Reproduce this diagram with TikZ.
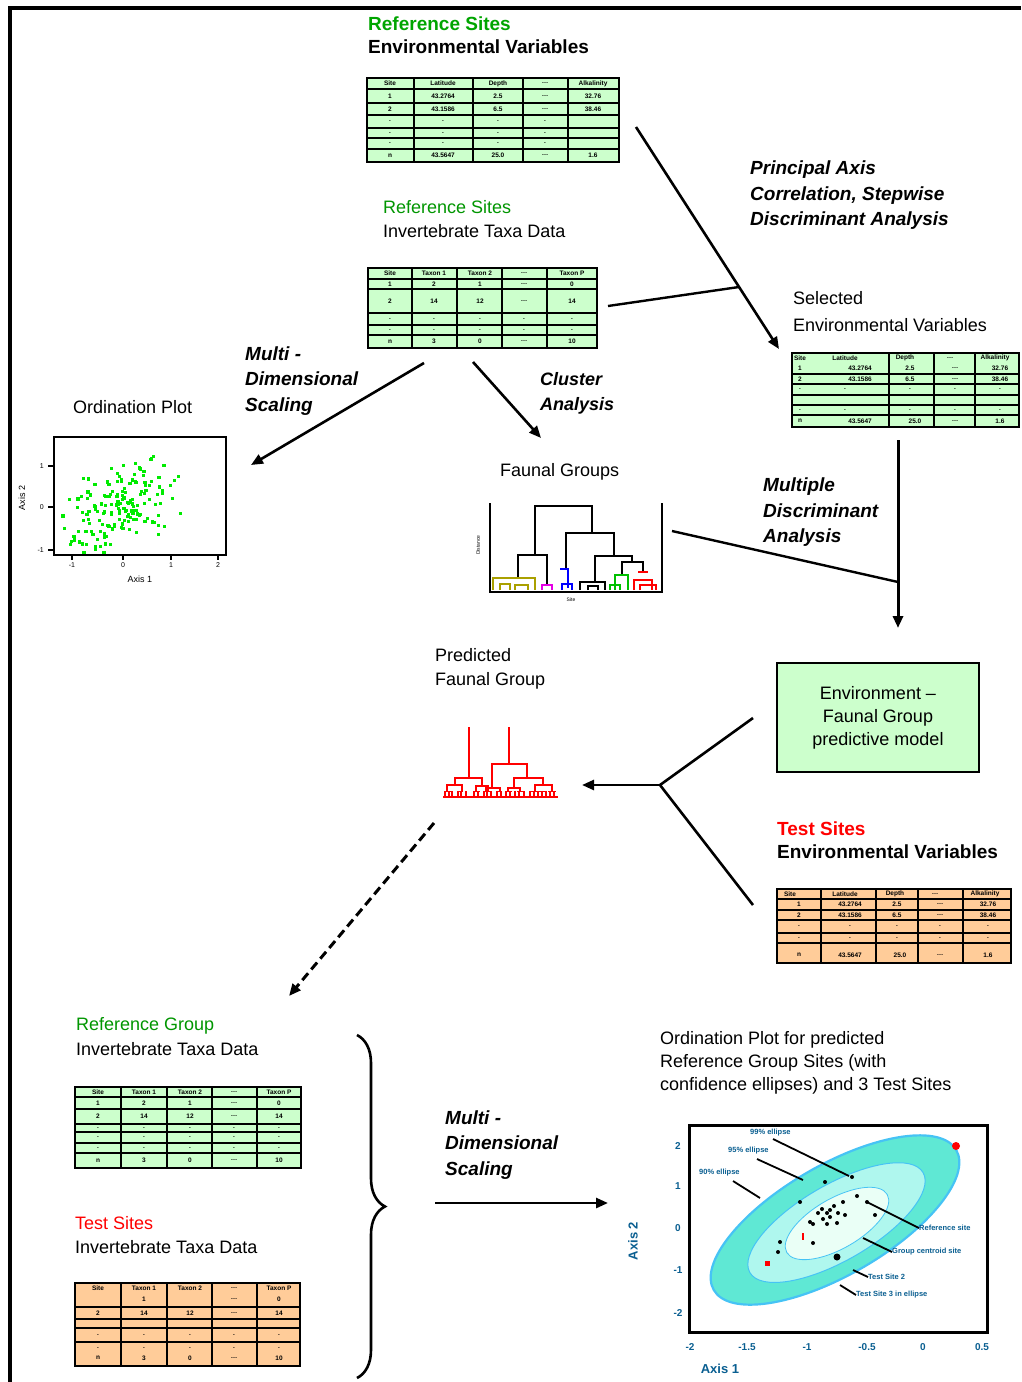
\documentclass[tikz,border=0pt]{standalone}
\usepackage{fontspec}
\setmainfont{Liberation Sans}
\usetikzlibrary{arrows.meta,decorations.pathreplacing}

\definecolor{titlegreen}{RGB}{0,165,0}
\definecolor{refgreen}{RGB}{0,150,0}
\definecolor{tabgreen}{RGB}{204,255,204}
\definecolor{taborange}{RGB}{255,204,153}
\definecolor{scatgreen}{RGB}{0,235,0}
\definecolor{axisblue}{RGB}{10,95,145}
\definecolor{ringout}{RGB}{95,232,212}
\definecolor{ringmid}{RGB}{175,247,238}
\definecolor{ringin}{RGB}{234,255,246}
\definecolor{ringedge}{RGB}{70,195,245}
\definecolor{olive}{RGB}{170,160,0}
\definecolor{magent}{RGB}{230,0,230}

% place a row of cell entries: prefix, y, list of x/text
\newcommand\celltexts[3]{%
  \foreach \tcx/\tct [count=\tk] in {#3} {\node[cell] (#1-\tk) at (\tcx,#2) {\tct};}}

\begin{document}
\begin{tikzpicture}[x=1pt,y=-1pt,
  lbl/.style={anchor=west, inner sep=0pt, font=\fontsize{18}{24}\selectfont, align=left},
  blbl/.style={anchor=west, inner sep=0pt, font=\fontsize{19}{23}\selectfont\bfseries, align=left},
  bilbl/.style={anchor=west, inner sep=0pt, font=\fontsize{19}{25.5}\selectfont\bfseries\itshape, align=left},
  tbl/.style={draw, line width=2.6pt, inner sep=0pt},
  gridln/.style={line width=1.6pt},
  cell/.style={inner sep=0pt, font=\fontsize{6.5}{7}\selectfont\bfseries},
  conn/.style={line width=2.6pt, -{Triangle[length=12pt,width=10pt]}},
  joinln/.style={line width=2.4pt},
  tiny/.style={inner sep=0pt, font=\fontsize{7}{7}\selectfont},
  plotlbl/.style={anchor=west, inner sep=0pt, text=axisblue, font=\fontsize{7.5}{8}\selectfont\bfseries},
  ticklbl/.style={inner sep=0pt, text=axisblue, font=\fontsize{10}{10}\selectfont\bfseries},
  leader/.style={line width=1.8pt},
]
\useasboundingbox (0,0) rectangle (1021,1382);
\fill[white] (0,0) rectangle (1021,1382);

% page frame
\draw[line width=3.2pt] (1021,8) -- (10,8) -- (10,1382);

% ---------------- reference sites: environmental variables ----------------
\node[blbl, text=titlegreen] (h1a) at (368,24) {Reference Sites};
\node[blbl] (h1b) at (368,47) {Environmental Variables};
\node[tbl, fill=tabgreen, minimum width=252, minimum height=84] (t1) at (493,120) {};
\foreach \gx in {414,473,523,568} \draw[gridln] (\gx,78) -- (\gx,162);
\foreach \gy in {89,103,115,128,138,149} \draw[gridln] (367,\gy) -- (619,\gy);
\celltexts{t1a}{83.5}{390/Site,443/Latitude,498/Depth,545/\ldots,593/Alkalinity}
\celltexts{t1b}{96}{390/1,443/43.2764,498/2.5,545/\ldots,593/32.76}
\celltexts{t1c}{109}{390/2,443/43.1586,498/6.5,545/\ldots,593/38.46}
\celltexts{t1d}{121.5}{390/.,443/.,498/.,545/.}
\celltexts{t1e}{133}{390/.,443/.,498/.,545/.}
\celltexts{t1f}{143.5}{390/.,443/.,498/.,545/.}
\celltexts{t1g}{155.5}{390/n,443/43.5647,498/25.0,545/\ldots,593/1.6}

% ---------------- reference sites: invertebrate taxa ----------------
\node[lbl, text=refgreen] (h2a) at (383,207) {Reference Sites};
\node[lbl] (h2b) at (383,231) {Invertebrate Taxa Data};
\node[tbl, fill=tabgreen, minimum width=229, minimum height=80] (t2) at (482.5,308) {};
\foreach \gx in {412,457,502,547} \draw[gridln] (\gx,268) -- (\gx,348);
\foreach \gy in {279,289,313,325,335} \draw[gridln] (368,\gy) -- (597,\gy);
\celltexts{t2a}{273.5}{390/Site,434/Taxon 1,480/Taxon 2,524/\ldots,572/Taxon P}
\celltexts{t2b}{284}{390/1,434/2,480/1,524/\ldots,572/0}
\celltexts{t2c}{301}{390/2,434/14,480/12,524/\ldots,572/14}
\celltexts{t2d}{319}{390/.,434/.,480/.,524/.,572/.}
\celltexts{t2e}{330}{390/.,434/.,480/.,524/.,572/.}
\celltexts{t2f}{341.5}{390/n,434/3,480/0,524/\ldots,572/10}

% ---------------- method labels ----------------
\node[bilbl] (m1) at (750,195.5) {Principal Axis\\Correlation, Stepwise\\Discriminant Analysis};
\node[bilbl] (m2) at (245,381) {Multi -\\Dimensional\\Scaling};
\node[bilbl, font=\fontsize{18}{25}\selectfont\bfseries\itshape] (m3) at (540,393.5) {Cluster\\Analysis};
\node[bilbl] (m4) at (763,512.5) {Multiple\\Discriminant\\Analysis};
\node[bilbl] (m5) at (445,1145) {Multi -\\Dimensional\\Scaling};

% ---------------- selected environmental variables ----------------
\node[lbl] (h3a) at (793,298) {Selected};
\node[lbl] (h3b) at (793,325) {Environmental Variables};
\node[tbl, fill=tabgreen, minimum width=227, minimum height=74] (t3) at (905.5,390) {};
\foreach \gx in {889,934,975} \draw[gridln] (\gx,353) -- (\gx,427);
\foreach \gy in {374,384,405,415} \draw[gridln] (792,\gy) -- (1019,\gy);
\draw[line width=2.6pt] (792,395) -- (1019,395);
\celltexts{t3a}{358}{800/Site,845/Latitude,905/Depth,950/\ldots,995/Alkalinity}
\celltexts{t3b}{368}{800/1,860/43.2764,910/2.5,955/\ldots,1000/32.76}
\celltexts{t3c}{379}{800/2,860/43.1586,910/6.5,955/\ldots,1000/38.46}
\celltexts{t3d}{389.5}{800/.,845/.,910/.,955/.,1000/.}
\celltexts{t3e}{410}{800/.,845/.,910/.,955/.,1000/.}
\celltexts{t3f}{421}{800/n,860/43.5647,915/25.0,955/\ldots,1000/1.6}

% ---------------- ordination plot (reference sites) ----------------
\node[lbl] (h4) at (73,407) {Ordination Plot};
\begin{scope}
  \clip (56,439) rectangle (224,553);
  \pgfmathsetseed{42}
  \foreach \i in {1,...,170}{
    \pgfmathsetmacro\su{rand+rand}
    \pgfmathsetmacro\sv{rand+rand}
    \pgfmathsetmacro\px{122+31*\su}
    \pgfmathsetmacro\py{505-11*\su+23*\sv}
    \fill[scatgreen] (\px-1.6,\py-1.6) rectangle +(3.2,3.2);
  }
  \foreach \px/\py in {218,493, 216,525, 177,456, 192,471, 174,475, 135,441, 177,484, 72,551, 67,521, 60,520, 75,540, 200,468}
    \fill[scatgreen] (\px-1.8,\py-1.8) rectangle +(3.6,3.6);
\end{scope}
\node[draw, line width=1.6pt, minimum width=172, minimum height=118, inner sep=0pt] (op1) at (140,496) {};
\foreach \ty/\tl in {466/1,507/0,550/-1} {
  \draw[line width=1.2pt] (48,\ty) -- (54,\ty);
  \node[tiny, anchor=east] (op1y\ty) at (44,\ty) {\tl};
}
\foreach \tx/\tl in {72/-1,123/0,171/1,218/2} {
  \draw[line width=1.2pt] (\tx,555) -- (\tx,560);
  \node[tiny, anchor=north] (op1x\tx) at (\tx,562) {\tl};
}
\node[tiny, font=\fontsize{9}{9}\selectfont] (op1xl) at (140,579) {Axis 1};
\node[tiny, font=\fontsize{9}{9}\selectfont, rotate=90] (op1yl) at (22,498) {Axis 2};

% ---------------- faunal groups dendrogram ----------------
\node[lbl] (h5) at (500,472) {Faunal Groups};
\draw[line width=1.6pt] (490,503) -- (490,592) -- (662,592) -- (662,503);
\begin{scope}[line width=1.5pt]
  \draw (518,578) -- (518,555) -- (547,555) -- (547,585);
  \draw (535,555) -- (535,506) -- (592,506) -- (592,533);
  \draw (566,569) -- (566,533) -- (614,533) -- (614,556);
  \draw (595,582) -- (595,556) -- (632,556) -- (632,562);
  \draw (622,575) -- (622,562) -- (643,562) -- (643,572);
  % leaf clusters
  \draw[olive] (493,590) -- (493,578) -- (535,578) -- (535,590);
  \draw[olive] (500,590) -- (500,584) -- (510,584) -- (510,590);
  \draw[olive] (515,590) -- (515,585) -- (528,585) -- (528,590);
  \draw[magent] (542,590) -- (542,585) -- (552,585) -- (552,590);
  \draw[blue] (560,569) -- (568,569) -- (568,588);
  \draw[blue] (562,590) -- (562,584) -- (572,584) -- (572,590);
  \draw (580,590) -- (580,582) -- (605,582) -- (605,590);
  \draw (588,590) -- (588,586) -- (598,586) -- (598,590);
  \draw[green!75!black] (615,590) -- (615,575) -- (628,575) -- (628,590);
  \draw[green!75!black] (610,590) -- (610,585) -- (620,585) -- (620,590);
  \draw[red] (638,572) -- (648,572);
  \draw[red] (634,590) -- (634,580) -- (652,580) -- (652,590);
  \draw[red] (640,590) -- (640,585) -- (656,585) -- (656,590);
\end{scope}
\node[tiny, font=\fontsize{5}{5}\selectfont, rotate=90] (h5y) at (478,545) {Distance};
\node[tiny, font=\fontsize{5}{5}\selectfont] (h5x) at (571,600) {Site};

% ---------------- environment - faunal group model ----------------
\node[draw, line width=2.6pt, fill=tabgreen, minimum width=202, minimum height=109, align=center,
      font=\fontsize{18}{23}\selectfont] (model) at (878,717.5) {Environment --\\Faunal Group\\predictive model};

% ---------------- predicted faunal group ----------------
\node[lbl] (h6) at (435,668.5) {Predicted\\Faunal Group};
\begin{scope}[red, line width=1.5pt]
  \draw (469,727) -- (469,778);
  \draw (509,727) -- (509,764);
  \draw (492,788) -- (492,764) -- (527,764) -- (527,778);
  \draw (455,786) -- (455,778) -- (482,778) -- (482,786);
  \draw (447,792) -- (447,785) -- (462,785) -- (462,792);
  \draw (476,792) -- (476,786) -- (488,786) -- (488,792);
  \draw (486,792) -- (486,788) -- (500,788) -- (500,792);
  \draw (514,788) -- (514,778) -- (543,778) -- (543,785);
  \draw (508,792) -- (508,788) -- (520,788) -- (520,792);
  \draw (535,792) -- (535,785) -- (552,785) -- (552,792);
  \foreach \lx in {445,449,452,458,461,466,474,478,484,487,491,497,501,506,510,515,519,524,530,534,538,542,546,550,554}
    \draw[line width=1.2pt] (\lx,791) -- (\lx,797);
  \foreach \bx/\bw in {444/7,457/6,473/7,485/6,496/6,507/5,517/6,529/6,536/10,548/8}
    \draw[line width=1.2pt] (\bx,791.5) -- ++(\bw,0);
  \draw[line width=2.6pt] (443,797) -- (558,797);
\end{scope}

% ---------------- test sites: environmental variables ----------------
\node[blbl, text=red] (h7a) at (777,829) {Test Sites};
\node[blbl] (h7b) at (777,852) {Environmental Variables};
\node[tbl, fill=taborange, minimum width=234, minimum height=74] (t4) at (894,926) {};
\foreach \gx in {821,876,918,963} \draw[gridln] (\gx,889) -- (\gx,963);
\foreach \gy in {899,910,920,933,943} \draw[gridln] (777,\gy) -- (1011,\gy);
\celltexts{t4a}{894}{790/Site,845/Latitude,895/Depth,935/\ldots,985/Alkalinity}
\celltexts{t4b}{904.5}{799/1,850/43.2764,897/2.5,940/\ldots,988/32.76}
\celltexts{t4c}{915}{799/2,850/43.1586,897/6.5,940/\ldots,988/38.46}
\celltexts{t4d}{926.5}{799/.,850/.,897/.,940/.,988/.}
\celltexts{t4e}{938}{799/.,850/.,897/.,940/.,988/.}
\celltexts{t4f}{955}{799/n,850/43.5647,900/25.0,940/\ldots,988/1.6}

% ---------------- reference group / test sites: invertebrate taxa ----------------
\node[lbl, text=refgreen] (h8a) at (76,1026) {Reference Group};
\node[lbl] (h8b) at (76,1049) {Invertebrate Taxa Data};
\node[tbl, fill=tabgreen, minimum width=226, minimum height=81] (t5) at (188,1127.5) {};
\foreach \gx in {121,167,212,257} \draw[gridln] (\gx,1087) -- (\gx,1168);
\foreach \gy in {1097,1109,1124,1132,1143,1153} \draw[gridln] (75,\gy) -- (301,\gy);
\celltexts{t5a}{1092}{98/Site,144/Taxon 1,190/Taxon 2,234/\ldots,279/Taxon P}
\celltexts{t5b}{1103}{98/1,144/2,190/1,234/\ldots,279/0}
\celltexts{t5c}{1116.5}{98/2,144/14,190/12,234/\ldots,279/14}
\celltexts{t5d}{1128}{98/.,144/.,190/.,234/.,279/.}
\celltexts{t5e}{1137.5}{98/.,144/.,190/.,234/.,279/.}
\celltexts{t5f}{1148}{98/.,144/.,190/.,234/.,279/.}
\celltexts{t5g}{1160.5}{98/n,144/3,190/0,234/\ldots,279/10}

\node[lbl, text=red] (h9a) at (75,1223) {Test Sites};
\node[lbl] (h9b) at (75,1247) {Invertebrate Taxa Data};
\node[tbl, fill=taborange, minimum width=225, minimum height=83] (t6) at (187.5,1324.5) {};
\foreach \gx in {121,167,212,257} \draw[gridln] (\gx,1283) -- (\gx,1366);
\foreach \gy in {1307,1319,1328,1342} \draw[gridln] (75,\gy) -- (300,\gy);
\celltexts{t6a}{1288}{98/Site,144/Taxon 1,190/Taxon 2,234/\ldots,279/Taxon P}
\celltexts{t6b}{1299}{144/1,234/\ldots,279/0}
\celltexts{t6c}{1313}{98/2,144/14,190/12,234/\ldots,279/14}
\celltexts{t6d}{1335}{98/.,144/.,190/.,234/.,279/.}
\celltexts{t6e}{1348}{98/.,144/.,190/.,234/.,279/.}
\celltexts{t6f}{1358}{98/n,144/3,190/0,234/\ldots,279/10}

% ---------------- ordination plot with confidence ellipses ----------------
\node[lbl, font=\fontsize{18}{23}\selectfont] (h10) at (660,1063) {Ordination Plot for predicted\\Reference Group Sites (with\\confidence ellipses) and 3 Test Sites};
\begin{scope}[shift={(835,1220)}, rotate=30]
  \draw[fill=ringout, draw=ringedge, line width=2.2pt] (0,0) ellipse [x radius=140, y radius=55];
  \draw[fill=ringmid, draw=ringedge, line width=1pt] (0,3) ellipse [x radius=100, y radius=38];
  \draw[fill=ringin, draw=ringedge, line width=0.8pt] (0,4) ellipse [x radius=58, y radius=25];
\end{scope}
\foreach \dx/\dy in {852/1177,825/1182,857/1196,843/1202,800/1202,830/1210,827/1213,838/1213,818/1213,
                     810/1222,813/1224,823/1219,837/1223,875/1215,867/1202,780/1242,813/1243,778/1252,827/1224,830/1217,
                     822/1209,834/1206,845/1215}
  \fill (\dx,\dy) circle (2);
\fill (837,1257) circle (3.5);
\fill[red] (956,1146) circle (4);
\fill[red] (764.5,1260.5) rectangle +(5,5);
\fill[red] (802,1233) rectangle +(2.2,7);
\node[draw, line width=3pt, minimum width=298, minimum height=207, inner sep=0pt] (op2) at (838,1228.5) {};
% leaders and labels
\node[plotlbl] (l1) at (750,1133) {99\% ellipse};
\node[plotlbl] (l2) at (728,1151) {95\% ellipse};
\node[plotlbl] (l3) at (699,1173) {90\% ellipse};
\draw[leader] (773,1139) -- (849,1176);
\draw[leader] (757,1159) -- (803,1180);
\draw[leader] (733,1181) -- (760,1198);
\node[plotlbl] (r1) at (919,1228) {Reference site};
\node[plotlbl] (r2) at (892,1252) {Group centroid site};
\node[plotlbl] (r3) at (868,1277) {Test Site 2};
\node[plotlbl] (r4) at (856,1295) {Test Site 3 in ellipse};
\draw[leader] (867,1202) -- (r1.west);
\draw[leader] (863,1238) -- (r2.west);
\draw[leader] (853,1270) -- (r3.west);
\draw[leader] (840,1285) -- (r4.west);
\foreach \yy/\yl in {1146/2,1186/1,1228/0,1270/-1,1313/-2}
  \node[ticklbl] (yt\yy) at (678,\yy) {\yl};
\foreach \xx/\xl in {690/-2,747/-1.5,807/-1,867/-0.5,923/0,982/0.5}
  \node[ticklbl] (xt\xx) at (\xx,1347) {\xl};
\node[ticklbl, font=\fontsize{13}{13}\selectfont\bfseries] (ax1) at (720,1369) {Axis 1};
\node[ticklbl, font=\fontsize{13}{13}\selectfont\bfseries, rotate=90] (ax2) at (633,1241) {Axis 2};

% ---------------- connectors ----------------
\coordinate (a1s) at (636,127);  \coordinate (a1e) at (779,349);
\coordinate (a2s) at (608,306);  \coordinate (a2e) at (739,287);
\coordinate (a3s) at (424,363);  \coordinate (a3e) at (251,465);
\coordinate (a4s) at (473,362);  \coordinate (a4e) at (541,438);
\coordinate (a5s) at (898,440);  \coordinate (a5e) at (898,628);
\coordinate (a6s) at (672,531);  \coordinate (a6e) at (898,582);
\coordinate (y1) at (753,718);   \coordinate (yj) at (660,785);
\coordinate (y2) at (753,905);   \coordinate (ya) at (582,785);
\coordinate (d1) at (434,823);   \coordinate (d2) at (289,996);
\coordinate (b1) at (435,1203);  \coordinate (b2) at (608,1203);
\coordinate (brt) at (357,1035); \coordinate (brb) at (357,1378);

\draw[conn] (a1s) -- (a1e);
\draw[joinln] (a2s) -- (a2e);
\draw[conn] (a3s) -- (a3e);
\draw[conn] (a4s) -- (a4e);
\draw[conn, line width=3pt] (a5s) -- (a5e);
\draw[joinln] (a6s) -- (a6e);
\draw[joinln, line width=2.6pt] (y1) -- (yj) -- (y2);
\draw[conn] (yj) -- (ya);
\draw[conn, dash pattern=on 9pt off 5pt, line width=3pt] (d1) -- (d2);
\draw[line width=2.6pt, decorate, decoration={brace, amplitude=28pt}] (brt) -- (brb);
\draw[conn] (b1) -- (b2);
\end{tikzpicture}
\end{document}
